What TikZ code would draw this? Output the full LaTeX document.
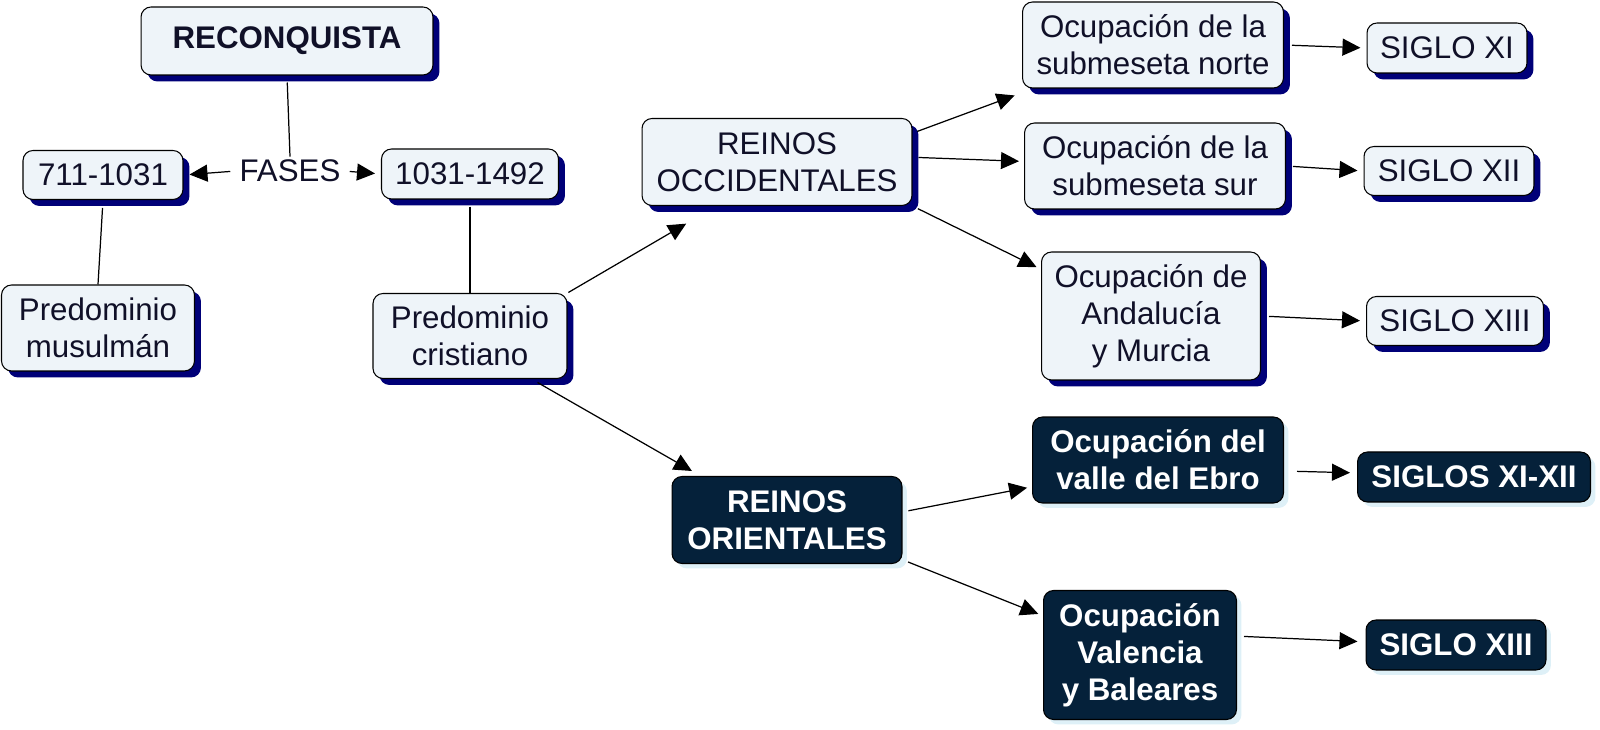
\documentclass[tikz,border=0pt]{standalone}
\usepackage{fontspec}
\setmainfont{Liberation Sans}
\usepackage{tikz}
\usetikzlibrary{arrows.meta,shadows,positioning}
\definecolor{lightfill}{RGB}{238,244,249}
\definecolor{navyshadow}{RGB}{0,0,120}
\definecolor{darkfill}{RGB}{5,33,58}
\definecolor{paleshadow}{RGB}{222,240,247}
\definecolor{inktext}{RGB}{16,16,40}
\newcommand{\mapfont}{\fontsize{17.8pt}{21pt}\selectfont}
\tikzstyle{concept} = [rectangle, rounded corners=0.2cm, draw=black, line width=0.6pt, fill=lightfill, text=inktext, font=\mapfont, align=center, inner sep=0pt, drop shadow={opacity=1, fill=navyshadow, shadow xshift=0.13cm, shadow yshift=-0.13cm}]
\tikzstyle{darkconcept} = [rectangle, rounded corners=0.2cm, draw=black, line width=0.6pt, fill=darkfill, text=white, font=\mapfont\bfseries, align=center, inner sep=0pt, drop shadow={opacity=1, fill=paleshadow, shadow xshift=0.1cm, shadow yshift=-0.1cm}]
\tikzstyle{link} = [line width=0.7pt]
\tikzstyle{arrow} = [line width=0.7pt, ->, >={Triangle[length=0.36cm, width=0.34cm]}, shorten >=0.12cm, shorten <=0.12cm]

\begin{document}
\begin{tikzpicture}
		[x=0.02cm, y=0.02cm]
		\useasboundingbox (0,0) rectangle (1600,730);
		\node[concept, font=\mapfont\bfseries, minimum width=5.84cm, minimum height=1.36cm] (reconquista) at (287,689) {RECONQUISTA};
		\node[inner sep=0.06cm, text=inktext, font=\mapfont] (fases) at (290,559) {FASES};
		\node[concept, minimum width=3.2cm, minimum height=0.98cm] (a711) at (103,555) {711-1031};
		\node[concept, minimum width=3.54cm, minimum height=1cm] (a1031) at (470,556) {1031-1492};
		\node[concept, minimum width=3.86cm, minimum height=1.72cm] (musulman) at (98,402) {Predominio\\musulmán};
		\node[concept, minimum width=3.88cm, minimum height=1.7cm] (cristiano) at (470,394) {Predominio\\cristiano};
		
		\node[concept, minimum width=5.4cm, minimum height=1.74cm] (occidentales) at (777,568) {REINOS\\OCCIDENTALES};
		\node[concept, minimum width=5.22cm, minimum height=1.72cm] (norte) at (1153,685) {Ocupación de la\\submeseta norte};
		\node[concept, minimum width=5.22cm, minimum height=1.72cm] (sur) at (1155,564) {Ocupación de la\\submeseta sur};
		\node[concept, minimum width=4.38cm, minimum height=2.56cm] (andalucia) at (1151,414) {Ocupación de\\Andalucía\\y Murcia};
		\node[concept, minimum width=3.2cm, minimum height=1cm] (sigloxi) at (1447,682) {SIGLO XI};
		\node[concept, minimum width=3.4cm, minimum height=0.98cm] (sigloxii) at (1449,559) {SIGLO XII};
		\node[concept, minimum width=3.54cm, minimum height=0.98cm] (sigloxiii) at (1455,409) {SIGLO XIII};
		
		\node[darkconcept, minimum width=4.6cm, minimum height=1.74cm] (orientales) at (787,210) {REINOS\\ORIENTALES};
		\node[darkconcept, minimum width=5.02cm, minimum height=1.72cm] (ebro) at (1158,270) {Ocupación del\\valle del Ebro};
		\node[darkconcept, minimum width=3.86cm, minimum height=2.58cm] (valencia) at (1140,75) {Ocupación\\Valencia\\y Baleares};
		\node[darkconcept, minimum width=4.66cm, minimum height=1cm] (siglosxixii) at (1474,253) {SIGLOS XI-XII};
		\node[darkconcept, minimum width=3.6cm, minimum height=1cm] (sigloxiiib) at (1456,85) {SIGLO XIII};
		
		\draw[link, shorten <=0.14cm] (reconquista.south) -- (fases.north);
		\draw[arrow] (fases.west) -- (a711.east);
		\draw[arrow] (fases.east) -- (a1031.west);
		\draw[link, shorten <=0.16cm] (a711.south) -- (musulman.north);
		\draw[link, shorten <=0.14cm] (a1031.south) -- (cristiano.north);
		\draw[arrow, shorten >=0.7cm, shorten <=0.02cm] (cristiano.north east) -- (occidentales.216);
		\draw[arrow, shorten >=0.2cm, shorten <=0.14cm] (cristiano.325) -- (orientales.153);
		
		\draw[arrow, shorten >=0.4cm, shorten <=0.1cm] (occidentales.12) -- (norte.200);
		\draw[arrow, shorten >=0.1cm] (occidentales.2) -- (sur.178);
		\draw[arrow, shorten >=0.1cm] (occidentales.south east) -- (andalucia.157);
		\draw[arrow, shorten <=0.16cm] (norte.east) -- (sigloxi.west);
		\draw[arrow, shorten <=0.14cm] (sur.east) -- (sigloxii.west);
		\draw[arrow, shorten <=0.16cm] (andalucia.east) -- (sigloxiii.west);
		
		\draw[arrow, shorten >=0.1cm] (orientales.4) -- (ebro.192);
		\draw[arrow, shorten >=0.1cm] (orientales.-19) -- (valencia.158);
		\draw[arrow, shorten <=0.26cm, shorten >=0.14cm] (ebro.-5) -- (siglosxixii.178);
		\draw[arrow, shorten <=0.14cm, shorten >=0.16cm] (valencia.11) -- (sigloxiiib.178);
		\end{tikzpicture}
\end{document}
